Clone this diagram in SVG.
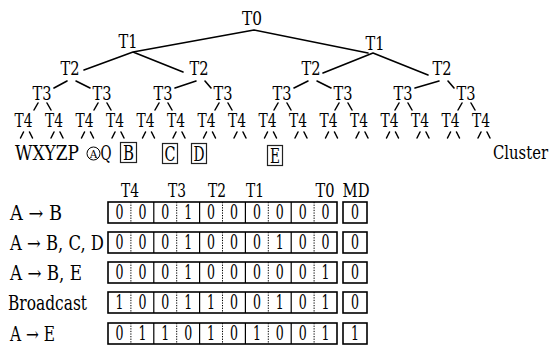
<svg xmlns="http://www.w3.org/2000/svg" width="553" height="349" viewBox="0 0 553 349">
<style>
text{fill:#000;font-family:"DejaVu Serif","Liberation Serif",serif}
.n{font-size:19px;text-anchor:middle}
.lf{font-size:21px;text-anchor:middle}
.rl{font-size:20px}
.d{font-size:20px;text-anchor:middle}
.ln{stroke:#000;stroke-width:1.6;fill:none;stroke-linecap:round}
.dash{stroke:#000;stroke-width:1.5;fill:none;stroke-linecap:round}
.box{stroke:#000;stroke-width:1.6;fill:#fff}
.lb{stroke:#222;stroke-width:1.2;fill:none}
.sol{stroke:#000;stroke-width:1.2}
.dot{stroke:#000;stroke-width:1;stroke-dasharray:1.3 1.3}
</style>
<rect width="553" height="349" fill="#fff"/>
<g id="connectors">
<path class="ln" d="M254,30 L133,52 M254,30 L368,53 M133,52 L84,70 M133,52 L183,72 M373,53 L323,73 M373,53 L428,75"/>
<path class="ln" d="M67,81 L54,88 M76,81 L90,88 M196,81 L175,88 M205,81 L211,88 M308,81 L294,88 M317,81 L331,88 M439,81 L415,88 M448,81 L454,88"/>
<path class="dash" d="M38,103 L34,110 M47,103 L51,110 M98,103 L94,110 M107,103 L111,110 M159,103 L155,110 M168,103 L172,110 M219,103 L215,110 M228,103 L232,110 M278,103 L274,110 M287,103 L291,110 M339,103 L335,110 M348,103 L352,110 M399,103 L395,110 M408,103 L412,110 M462,103 L458,110 M471,103 L475,110"/>
<path class="dash" d="M23.5,132 L20.5,138 M29.5,132 L32.5,138 M54,132 L51,138 M60,132 L63,138 M84.5,132 L81.5,138 M90.5,132 L93.5,138 M115,132 L112,138 M121,132 L124,138 M145.5,132 L142.5,138 M151.5,132 L154.5,138 M176,132 L173,138 M182,132 L185,138 M206.5,132 L203.5,138 M212.5,132 L215.5,138 M237,132 L234,138 M243,132 L246,138 M267.5,132 L264.5,138 M273.5,132 L276.5,138 M298,132 L295,138 M304,132 L307,138 M328.5,132 L325.5,138 M334.5,132 L337.5,138 M359,132 L356,138 M365,132 L368,138 M389.5,132 L386.5,138 M395.5,132 L398.5,138 M420,132 L417,138 M426,132 L429,138 M450.5,132 L447.5,138 M456.5,132 L459.5,138 M481,132 L478,138 M487,132 L490,138"/>
</g>
<g id="T0"><text class="n" x="252" y="25" font-size="20" textLength="20" lengthAdjust="spacingAndGlyphs">T0</text></g>
<g id="T1a"><text class="n" x="128" y="48" textLength="19" lengthAdjust="spacingAndGlyphs">T1</text></g>
<g id="T1b"><text class="n" x="375" y="50" textLength="19" lengthAdjust="spacingAndGlyphs">T1</text></g>
<g id="T2a"><text class="n" x="70" y="75" textLength="19" lengthAdjust="spacingAndGlyphs">T2</text></g>
<g id="T2b"><text class="n" x="199" y="75" textLength="19" lengthAdjust="spacingAndGlyphs">T2</text></g>
<g id="T2c"><text class="n" x="311" y="75" textLength="19" lengthAdjust="spacingAndGlyphs">T2</text></g>
<g id="T2d"><text class="n" x="442" y="75" textLength="19" lengthAdjust="spacingAndGlyphs">T2</text></g>
<g id="T3a"><text class="n" x="42" y="100" textLength="19" lengthAdjust="spacingAndGlyphs">T3</text></g>
<g id="T3b"><text class="n" x="102" y="100" textLength="19" lengthAdjust="spacingAndGlyphs">T3</text></g>
<g id="T3c"><text class="n" x="163" y="100" textLength="19" lengthAdjust="spacingAndGlyphs">T3</text></g>
<g id="T3d"><text class="n" x="223" y="100" textLength="19" lengthAdjust="spacingAndGlyphs">T3</text></g>
<g id="T3e"><text class="n" x="282" y="100" textLength="19" lengthAdjust="spacingAndGlyphs">T3</text></g>
<g id="T3f"><text class="n" x="343" y="100" textLength="19" lengthAdjust="spacingAndGlyphs">T3</text></g>
<g id="T3g"><text class="n" x="403" y="100" textLength="19" lengthAdjust="spacingAndGlyphs">T3</text></g>
<g id="T3h"><text class="n" x="466" y="100" textLength="19" lengthAdjust="spacingAndGlyphs">T3</text></g>
<g id="T4a"><text class="n" x="23.5" y="127" textLength="18" lengthAdjust="spacingAndGlyphs">T4</text></g>
<g id="T4b"><text class="n" x="54" y="127" textLength="18" lengthAdjust="spacingAndGlyphs">T4</text></g>
<g id="T4c"><text class="n" x="84.5" y="127" textLength="18" lengthAdjust="spacingAndGlyphs">T4</text></g>
<g id="T4d"><text class="n" x="115" y="127" textLength="18" lengthAdjust="spacingAndGlyphs">T4</text></g>
<g id="T4e"><text class="n" x="145.5" y="127" textLength="18" lengthAdjust="spacingAndGlyphs">T4</text></g>
<g id="T4f"><text class="n" x="176" y="127" textLength="18" lengthAdjust="spacingAndGlyphs">T4</text></g>
<g id="T4g"><text class="n" x="206.5" y="127" textLength="18" lengthAdjust="spacingAndGlyphs">T4</text></g>
<g id="T4h"><text class="n" x="237" y="127" textLength="18" lengthAdjust="spacingAndGlyphs">T4</text></g>
<g id="T4i"><text class="n" x="267.5" y="127" textLength="18" lengthAdjust="spacingAndGlyphs">T4</text></g>
<g id="T4j"><text class="n" x="298" y="127" textLength="18" lengthAdjust="spacingAndGlyphs">T4</text></g>
<g id="T4k"><text class="n" x="328.5" y="127" textLength="18" lengthAdjust="spacingAndGlyphs">T4</text></g>
<g id="T4l"><text class="n" x="359" y="127" textLength="18" lengthAdjust="spacingAndGlyphs">T4</text></g>
<g id="T4m"><text class="n" x="389.5" y="127" textLength="18" lengthAdjust="spacingAndGlyphs">T4</text></g>
<g id="T4n"><text class="n" x="420" y="127" textLength="18" lengthAdjust="spacingAndGlyphs">T4</text></g>
<g id="T4o"><text class="n" x="450.5" y="127" textLength="18" lengthAdjust="spacingAndGlyphs">T4</text></g>
<g id="T4p"><text class="n" x="481" y="127" textLength="18" lengthAdjust="spacingAndGlyphs">T4</text></g>
<g id="leaves">
<text x="15" y="160" font-size="21" textLength="64" lengthAdjust="spacingAndGlyphs">WXYZP</text>
<circle cx="93.5" cy="153.5" r="6.5" fill="none" stroke="#000" stroke-width="1"/>
<text x="93.5" y="157.5" font-size="10.5" text-anchor="middle">A</text>
<text x="100.5" y="160" font-size="21" textLength="11" lengthAdjust="spacingAndGlyphs">Q</text>
</g>
<g id="leafB"><rect class="lb" x="120.5" y="142.5" width="16" height="20"/><text class="lf" x="128.5" y="160" textLength="11" lengthAdjust="spacingAndGlyphs">B</text></g>
<g id="leafC"><rect class="lb" x="162.5" y="143.5" width="15" height="20"/><text class="lf" x="170" y="160.5" textLength="11" lengthAdjust="spacingAndGlyphs">C</text></g>
<g id="leafD"><rect class="lb" x="191.5" y="143.5" width="15" height="20"/><text class="lf" x="199" y="160.5" textLength="11" lengthAdjust="spacingAndGlyphs">D</text></g>
<g id="leafE"><rect class="lb" x="267.5" y="145.5" width="15" height="20"/><text class="lf" x="275" y="162.5" textLength="10" lengthAdjust="spacingAndGlyphs">E</text></g>
<g id="cluster"><text x="548" y="159" font-size="19" text-anchor="end" textLength="55" lengthAdjust="spacingAndGlyphs">Cluster</text></g>
<g id="header">
<text class="n" x="130" y="197" textLength="18" lengthAdjust="spacingAndGlyphs">T4</text>
<text class="n" x="177" y="197" textLength="18" lengthAdjust="spacingAndGlyphs">T3</text>
<text class="n" x="217" y="197" textLength="18" lengthAdjust="spacingAndGlyphs">T2</text>
<text class="n" x="255" y="197" textLength="18" lengthAdjust="spacingAndGlyphs">T1</text>
<text class="n" x="325" y="197" textLength="19" lengthAdjust="spacingAndGlyphs">T0</text>
<text class="n" x="356" y="197" textLength="27" lengthAdjust="spacingAndGlyphs">MD</text>
</g>
<defs>
<g id="grid">
<rect class="box" x="108" y="0" width="229" height="21"/>
<path class="sol" d="M153.8,0 V21 M199.6,0 V21 M245.4,0 V21 M291.2,0 V21"/>
<path class="dot" d="M130.9,0 V21 M176.7,0 V21 M222.5,0 V21 M268.3,0 V21 M314.1,0 V21"/>
<rect class="box" x="343" y="0" width="24" height="21"/>
</g>
</defs>
<g id="row1">
<text class="rl" x="10" y="220" textLength="52" lengthAdjust="spacingAndGlyphs">A → B</text>
<use href="#grid" y="202"/>
<g transform="translate(0,219)"><text class="d" x="119.5" textLength="8" lengthAdjust="spacingAndGlyphs">0</text><text class="d" x="142.4" textLength="8" lengthAdjust="spacingAndGlyphs">0</text><text class="d" x="165.3" textLength="8" lengthAdjust="spacingAndGlyphs">0</text><text class="d" x="188.2" textLength="8" lengthAdjust="spacingAndGlyphs">1</text><text class="d" x="211" textLength="8" lengthAdjust="spacingAndGlyphs">0</text><text class="d" x="234" textLength="8" lengthAdjust="spacingAndGlyphs">0</text><text class="d" x="256.9" textLength="8" lengthAdjust="spacingAndGlyphs">0</text><text class="d" x="279.8" textLength="8" lengthAdjust="spacingAndGlyphs">0</text><text class="d" x="302.7" textLength="8" lengthAdjust="spacingAndGlyphs">0</text><text class="d" x="325.6" textLength="8" lengthAdjust="spacingAndGlyphs">0</text><text class="d" x="355" textLength="8" lengthAdjust="spacingAndGlyphs">0</text></g>
</g>
<g id="row2">
<text class="rl" x="10" y="250" textLength="94" lengthAdjust="spacingAndGlyphs">A → B, C, D</text>
<use href="#grid" y="232"/>
<g transform="translate(0,249)"><text class="d" x="119.5" textLength="8" lengthAdjust="spacingAndGlyphs">0</text><text class="d" x="142.4" textLength="8" lengthAdjust="spacingAndGlyphs">0</text><text class="d" x="165.3" textLength="8" lengthAdjust="spacingAndGlyphs">0</text><text class="d" x="188.2" textLength="8" lengthAdjust="spacingAndGlyphs">1</text><text class="d" x="211" textLength="8" lengthAdjust="spacingAndGlyphs">0</text><text class="d" x="234" textLength="8" lengthAdjust="spacingAndGlyphs">0</text><text class="d" x="256.9" textLength="8" lengthAdjust="spacingAndGlyphs">0</text><text class="d" x="279.8" textLength="8" lengthAdjust="spacingAndGlyphs">1</text><text class="d" x="302.7" textLength="8" lengthAdjust="spacingAndGlyphs">0</text><text class="d" x="325.6" textLength="8" lengthAdjust="spacingAndGlyphs">0</text><text class="d" x="355" textLength="8" lengthAdjust="spacingAndGlyphs">0</text></g>
</g>
<g id="row3">
<text class="rl" x="10" y="280" textLength="72" lengthAdjust="spacingAndGlyphs">A → B, E</text>
<use href="#grid" y="262"/>
<g transform="translate(0,279)"><text class="d" x="119.5" textLength="8" lengthAdjust="spacingAndGlyphs">0</text><text class="d" x="142.4" textLength="8" lengthAdjust="spacingAndGlyphs">0</text><text class="d" x="165.3" textLength="8" lengthAdjust="spacingAndGlyphs">0</text><text class="d" x="188.2" textLength="8" lengthAdjust="spacingAndGlyphs">1</text><text class="d" x="211" textLength="8" lengthAdjust="spacingAndGlyphs">0</text><text class="d" x="234" textLength="8" lengthAdjust="spacingAndGlyphs">0</text><text class="d" x="256.9" textLength="8" lengthAdjust="spacingAndGlyphs">0</text><text class="d" x="279.8" textLength="8" lengthAdjust="spacingAndGlyphs">0</text><text class="d" x="302.7" textLength="8" lengthAdjust="spacingAndGlyphs">0</text><text class="d" x="325.6" textLength="8" lengthAdjust="spacingAndGlyphs">1</text><text class="d" x="355" textLength="8" lengthAdjust="spacingAndGlyphs">0</text></g>
</g>
<g id="row4">
<text class="rl" x="8" y="310" textLength="79" lengthAdjust="spacingAndGlyphs">Broadcast</text>
<use href="#grid" y="292"/>
<g transform="translate(0,309)"><text class="d" x="119.5" textLength="8" lengthAdjust="spacingAndGlyphs">1</text><text class="d" x="142.4" textLength="8" lengthAdjust="spacingAndGlyphs">0</text><text class="d" x="165.3" textLength="8" lengthAdjust="spacingAndGlyphs">0</text><text class="d" x="188.2" textLength="8" lengthAdjust="spacingAndGlyphs">1</text><text class="d" x="211" textLength="8" lengthAdjust="spacingAndGlyphs">1</text><text class="d" x="234" textLength="8" lengthAdjust="spacingAndGlyphs">0</text><text class="d" x="256.9" textLength="8" lengthAdjust="spacingAndGlyphs">0</text><text class="d" x="279.8" textLength="8" lengthAdjust="spacingAndGlyphs">1</text><text class="d" x="302.7" textLength="8" lengthAdjust="spacingAndGlyphs">0</text><text class="d" x="325.6" textLength="8" lengthAdjust="spacingAndGlyphs">1</text><text class="d" x="355" textLength="8" lengthAdjust="spacingAndGlyphs">0</text></g>
</g>
<g id="row5">
<text class="rl" x="10" y="341" textLength="45" lengthAdjust="spacingAndGlyphs">A → E</text>
<use href="#grid" y="323"/>
<g transform="translate(0,340)"><text class="d" x="119.5" textLength="8" lengthAdjust="spacingAndGlyphs">0</text><text class="d" x="142.4" textLength="8" lengthAdjust="spacingAndGlyphs">1</text><text class="d" x="165.3" textLength="8" lengthAdjust="spacingAndGlyphs">1</text><text class="d" x="188.2" textLength="8" lengthAdjust="spacingAndGlyphs">0</text><text class="d" x="211" textLength="8" lengthAdjust="spacingAndGlyphs">1</text><text class="d" x="234" textLength="8" lengthAdjust="spacingAndGlyphs">0</text><text class="d" x="256.9" textLength="8" lengthAdjust="spacingAndGlyphs">1</text><text class="d" x="279.8" textLength="8" lengthAdjust="spacingAndGlyphs">0</text><text class="d" x="302.7" textLength="8" lengthAdjust="spacingAndGlyphs">0</text><text class="d" x="325.6" textLength="8" lengthAdjust="spacingAndGlyphs">1</text><text class="d" x="355" textLength="8" lengthAdjust="spacingAndGlyphs">1</text></g>
</g>
</svg>
